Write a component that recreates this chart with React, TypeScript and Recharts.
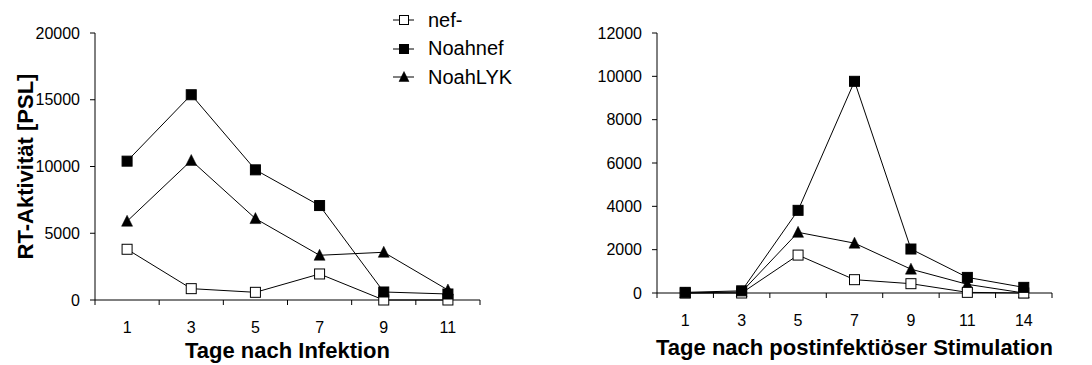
import { LineChart, Line, XAxis, YAxis, Legend, Label } from "recharts";

const FONT = "Arial, 'Liberation Sans', sans-serif";

// left panel: days after infection
const daysLeft = ["1", "3", "5", "7", "9", "11"];
const nefMinusLeft = [3800, 850, 575, 1950, 0, 0];
const noahnefLeft = [10400, 15375, 9750, 7075, 600, 450];
const noahLykLeft = [5900, 10450, 6100, 3350, 3575, 750];
const ticksLeft = [0, 5000, 10000, 15000, 20000];

// right panel: days after post-infection stimulation
const daysRight = ["1", "3", "5", "7", "9", "11", "14"];
const nefMinusRight = [0, 0, 1750, 615, 430, 30, 0];
const noahnefRight = [30, 100, 3815, 9770, 2030, 720, 260];
const noahLykRight = [0, 50, 2800, 2300, 1100, 400, 0];
const ticksRight = [0, 2000, 4000, 6000, 8000, 10000, 12000];

const seriesNames = ["nef-", "Noahnef", "NoahLYK"];

type MarkerKind = "open" | "square" | "triangle";
const markerKinds: MarkerKind[] = ["open", "square", "triangle"];

function Marker({ kind, cx, cy, s = 10 }: { kind: MarkerKind; cx: number; cy: number; s?: number }) {
  const h = s / 2;
  if (kind === "triangle") {
    const pts = `${cx},${cy - h - 1} ${cx + h + 0.5},${cy + h} ${cx - h - 0.5},${cy + h}`;
    return <polygon points={pts} fill="#000" stroke="#000" strokeWidth={0.5} />;
  }
  return (
    <rect
      x={cx - h}
      y={cy - h}
      width={s}
      height={s}
      fill={kind === "open" ? "#fff" : "#000"}
      stroke="#000"
      strokeWidth={1}
    />
  );
}

const dotFor = (kind: MarkerKind, tag: string) => (p: any) => {
  if (p.cx == null || p.cy == null) return <g key={`${tag}-${p.index}`} />;
  return (
    <g key={`${tag}-${p.index}`}>
      <Marker kind={kind} cx={p.cx} cy={p.cy} />
    </g>
  );
};

// category axis with Excel-style tick marks between categories
const makeXTick = (axisY: number, half: number, count: number) => (p: any) => {
  const { x, payload, index } = p;
  return (
    <g>
      <line x1={x - half} x2={x - half} y1={axisY} y2={axisY + 5} stroke="#000" />
      {index === count - 1 && <line x1={x + half} x2={x + half} y1={axisY} y2={axisY + 5} stroke="#000" />}
      <text x={x} y={axisY + 33} textAnchor="middle" fontSize={16} fontFamily={FONT} fill="#000">
        {payload.value}
      </text>
    </g>
  );
};

function LegendBox() {
  return (
    <div style={{ fontFamily: FONT, fontSize: 20, color: "#000" }}>
      {seriesNames.map((name, i) => (
        <div key={name} style={{ display: "flex", alignItems: "center", height: 28.5 }}>
          <svg width={36} height={16} style={{ display: "block" }}>
            <line x1={1} x2={22} y1={8} y2={8} stroke="#000" strokeWidth={1} />
            <Marker kind={markerKinds[i]} cx={12} cy={8} s={9} />
          </svg>
          <span>{name}</span>
        </div>
      ))}
    </div>
  );
}

const leftData = daysLeft.map((d, i) => ({
  day: d,
  nef: nefMinusLeft[i],
  noahnef: noahnefLeft[i],
  lyk: noahLykLeft[i],
}));

const rightData = daysRight.map((d, i) => ({
  day: d,
  nef: nefMinusRight[i],
  noahnef: noahnefRight[i],
  lyk: noahLykRight[i],
}));

const axisLine = { stroke: "#000", strokeWidth: 1 };
const yTick = { fontSize: 16, fontFamily: FONT, fill: "#000" };
const titleStyle = { fontSize: 22, fontWeight: "bold", fontFamily: FONT, fill: "#000" };

export default function App() {
  const leftW = 540;
  const rightW = 552;
  const lm = { top: 33, right: 60, bottom: 0, left: 35 };
  const rm = { top: 33, right: 40, bottom: 0, left: 57 };
  const leftHalf = (leftW - lm.left - 60 - lm.right) / daysLeft.length / 2;
  const rightHalf = (rightW - rm.left - 60 - rm.right) / daysRight.length / 2;

  return (
    <div style={{ position: "absolute", left: 0, top: 0, width: 1092, height: 365, background: "#fff" }}>
      <div style={{ position: "absolute", left: 0, top: 0 }}>
        <LineChart width={leftW} height={365} data={leftData} margin={lm}>
          <XAxis
            dataKey="day"
            scale="band"
            height={65}
            axisLine={axisLine}
            tickLine={false}
            interval={0}
            tick={makeXTick(300, leftHalf, daysLeft.length)}
          >
            <Label value="Tage nach Infektion" position="insideBottom" offset={7} style={titleStyle} />
          </XAxis>
          <YAxis
            width={60}
            domain={[0, 20000]}
            ticks={ticksLeft}
            interval={0}
            axisLine={axisLine}
            tickLine={{ stroke: "#000" }}
            tickSize={5}
            tickMargin={10}
            tick={yTick}
          >
            <Label
              content={(p: any) => {
                const vb = p.viewBox;
                const cx = vb.x - 10;
                const cy = vb.y + vb.height / 2;
                return (
                  <text
                    x={cx}
                    y={cy}
                    transform={`rotate(-90 ${cx} ${cy})`}
                    textAnchor="middle"
                    dominantBaseline="central"
                    fontSize={22}
                    fontWeight="bold"
                    fontFamily={FONT}
                    fill="#000"
                  >
                    RT-Aktivität [PSL]
                  </text>
                );
              }}
            />
          </YAxis>
          <Legend
            layout="vertical"
            align="center"
            verticalAlign="middle"
            wrapperStyle={{ left: 392, top: 6, width: 150 }}
            content={() => <LegendBox />}
          />
          <Line dataKey="lyk" name="NoahLYK" type="linear" stroke="#000" strokeWidth={1} dot={dotFor("triangle", "l3")} activeDot={false} isAnimationActive={false} />
          <Line dataKey="nef" name="nef-" type="linear" stroke="#000" strokeWidth={1} dot={dotFor("open", "l1")} activeDot={false} isAnimationActive={false} />
          <Line dataKey="noahnef" name="Noahnef" type="linear" stroke="#000" strokeWidth={1} dot={dotFor("square", "l2")} activeDot={false} isAnimationActive={false} />
        </LineChart>
      </div>
      <div style={{ position: "absolute", left: 540, top: 0 }}>
        <LineChart width={rightW} height={365} data={rightData} margin={rm}>
          <XAxis
            dataKey="day"
            scale="band"
            height={72}
            axisLine={axisLine}
            tickLine={false}
            interval={0}
            tick={makeXTick(293, rightHalf, daysRight.length)}
          >
            <Label value="Tage nach postinfektiöser Stimulation" position="insideBottom" offset={10} style={titleStyle} />
          </XAxis>
          <YAxis
            width={60}
            domain={[0, 12000]}
            ticks={ticksRight}
            interval={0}
            axisLine={axisLine}
            tickLine={{ stroke: "#000" }}
            tickSize={5}
            tickMargin={10}
            tick={yTick}
          />
          <Line dataKey="lyk" name="NoahLYK" type="linear" stroke="#000" strokeWidth={1} dot={dotFor("triangle", "r3")} activeDot={false} isAnimationActive={false} />
          <Line dataKey="nef" name="nef-" type="linear" stroke="#000" strokeWidth={1} dot={dotFor("open", "r1")} activeDot={false} isAnimationActive={false} />
          <Line dataKey="noahnef" name="Noahnef" type="linear" stroke="#000" strokeWidth={1} dot={dotFor("square", "r2")} activeDot={false} isAnimationActive={false} />
        </LineChart>
      </div>
    </div>
  );
}
